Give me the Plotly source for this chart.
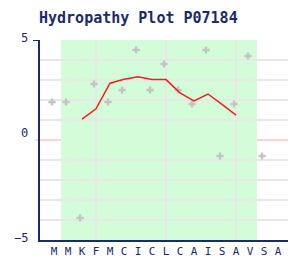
import plotly.graph_objects as go

residues = ["M", "M", "K", "F", "M", "C", "I", "C", "L", "C", "A", "I", "S", "A", "V", "S", "A"]
residue_scores = [1.9, 1.9, -3.9, 2.8, 1.9, 2.5, 4.5, 2.5, 3.8, 2.5, 1.8, 4.5, -0.8, 1.8, 4.2, -0.8]
avg_positions = [2, 3, 4, 5, 6, 7, 8, 9, 10, 11, 12, 13]
avg_scores = [1.04, 1.56, 2.84, 3.04, 3.16, 3.02, 3.02, 2.36, 1.96, 2.30, 1.78, 1.24]
region_start, region_end = 0.5, 14.5
vgrid_positions = [3, 8, 13]
y_labels = [5, 0, -5]

NAVY = "#1b2a6b"
FONT = "DejaVu Sans Mono"

fig = go.Figure()
fig.add_trace(go.Scatter(
    x=[i - 0.14 for i in range(len(residue_scores))], y=residue_scores,
    mode="markers", marker=dict(symbol="cross", size=6, color="#c4c4c4", line=dict(width=0)),
    hoverinfo="skip", showlegend=False))
fig.add_trace(go.Scatter(
    x=avg_positions, y=avg_scores, mode="lines",
    line=dict(color="#ff1a1a", width=1.5), hoverinfo="skip", showlegend=False))

shapes = [dict(type="rect", xref="x", yref="y", x0=region_start, x1=region_end, y0=-5, y1=5,
               fillcolor="#d2fdd8", line=dict(width=0), layer="below")]
for gx in vgrid_positions:
    shapes.append(dict(type="line", xref="x", yref="y", x0=gx, x1=gx, y0=-5, y1=5,
                       line=dict(color="#e8e8e8", width=2), layer="below"))
shapes.append(dict(type="line", xref="paper", yref="y", x0=-0.02, x1=1, y0=0, y1=0,
                   line=dict(color="#ffc4c4", width=1.5), layer="between"))
shapes.append(dict(type="line", xref="paper", yref="y", x0=-0.028, x1=0, y0=5, y1=5,
                   line=dict(color=NAVY, width=2), layer="above"))

annotations = []
for v in y_labels:
    annotations.append(dict(x=-0.04, xref="paper", y=v, yref="y", text=str(v).replace("-", "−"),
                            showarrow=False, xanchor="right", yanchor="middle",
                            yshift=(7 if v == 0 else 2),
                            font=dict(family=FONT, size=12, color=NAVY)))

fig.update_layout(
    width=288, height=260,
    margin=dict(l=40, r=0, t=40, b=20),
    paper_bgcolor="white", plot_bgcolor="white",
    title=dict(text="<b>Hydropathy Plot P07184</b>", x=39/288, xanchor="left", xref="container",
               y=1 - 18/260, yanchor="middle", yref="container",
               font=dict(family=FONT, size=15, color=NAVY)),
    shapes=shapes, annotations=annotations,
    xaxis=dict(range=[-1, 16.714], tickmode="array", tickvals=list(range(len(residues))),
               ticktext=residues, showgrid=False, zeroline=False, showline=True,
               linecolor=NAVY, linewidth=2, ticks="", ticklen=0,
               tickfont=dict(family=FONT, size=11, color=NAVY), fixedrange=True),
    yaxis=dict(range=[-5, 5], tickmode="array", tickvals=[v for v in range(-4, 6) if v != 0],
               showticklabels=False, showgrid=True, gridcolor="#e8e8e8", gridwidth=1.5,
               zeroline=False, showline=True, linecolor=NAVY, linewidth=2, ticks="",
               fixedrange=True),
)

fig.write_html("out.html")
